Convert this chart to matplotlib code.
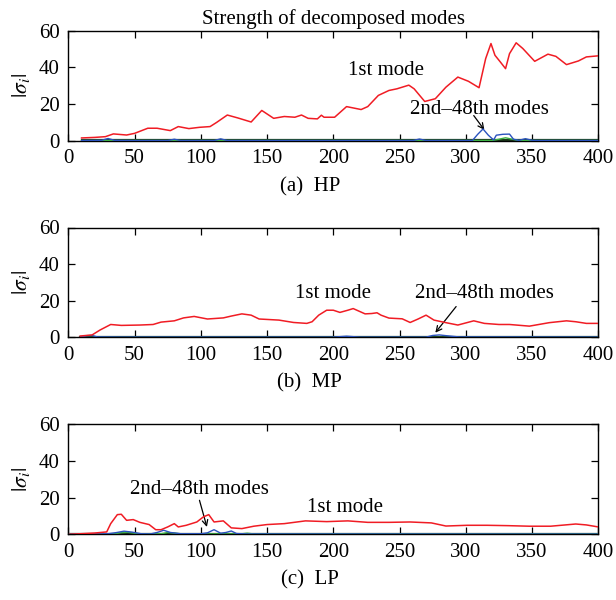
import matplotlib
matplotlib.use("Agg")
import matplotlib.pyplot as plt
import numpy as np

plt.rcParams['font.family'] = ['Liberation Serif', 'DejaVu Serif']
plt.rcParams['mathtext.fontset'] = 'stix'

# ---------------- data ----------------
# Panel (a) HP - 1st mode
hp_t = [10, 20, 28, 34, 44, 50, 60, 67, 77, 83, 91, 99, 107, 112, 120, 128, 138, 146,
        155, 163, 171, 176, 181, 188, 191, 193, 201, 210, 221, 226, 234, 242, 248, 257,
        261, 269, 277, 285, 294, 302, 310, 315, 319, 322, 326, 330, 333, 338, 343, 352,
        362, 368, 376, 385, 391, 400]
hp_first = [1.5, 1.8, 2.2, 3.7, 3.1, 4.0, 6.8, 6.8, 5.5, 7.7, 6.6, 7.3, 7.7, 10.0, 14.0,
            12.4, 10.2, 16.5, 12.2, 13.2, 12.8, 14.0, 12.2, 11.9, 13.9, 12.8, 12.8, 18.6,
            17.0, 18.6, 24.7, 27.4, 28.3, 30.3, 28.3, 21.4, 22.9, 29.2, 34.7, 32.4, 28.9,
            44.8, 53.0, 46.6, 43.0, 39.3, 47.5, 53.4, 50.3, 43.3, 47.2, 46.0, 41.5, 43.5,
            45.7, 46.3]
# Panel (a) HP - higher modes (blue / green / rest)
hp_hi_t = [10, 25, 30, 35, 50, 75, 80, 85, 110, 115, 120, 260, 265, 270, 305, 309, 313,
           317, 321, 323, 328, 333, 336, 340, 345, 350, 355, 400]
hp_blue = [0.1, 0.2, 1.2, 0.2, 0.1, 0.1, 0.8, 0.1, 0.1, 1.0, 0.1, 0.1, 0.9, 0.1, 0.1,
           3.5, 6.4, 3.0, 0.4, 3.0, 3.5, 3.6, 0.8, 0.2, 1.1, 0.2, 0.1, 0.1]
hp_green_t = [10, 320, 325, 330, 335, 340, 400]
hp_green = [0.1, 0.1, 0.8, 1.6, 0.8, 0.1, 0.1]

# Panel (b) MP - 1st mode
mp_t = [9, 18, 24, 32, 40, 54, 64, 70, 80, 87, 95, 105, 117, 123, 131, 138, 144, 159,
        170, 180, 184, 189, 195, 200, 205, 211, 215, 224, 229, 233, 236, 242, 252, 258,
        264, 270, 276, 285, 294, 306, 314, 325, 333, 348, 363, 376, 383, 391, 400]
mp_first = [0.7, 1.3, 4.0, 7.0, 6.5, 6.7, 7.0, 8.3, 9.0, 10.6, 11.4, 10.0, 10.6, 11.6,
            12.8, 12.1, 10.0, 9.4, 8.1, 7.6, 8.5, 12.1, 14.8, 14.8, 13.6, 14.8, 15.7,
            12.8, 13.0, 13.4, 12.1, 10.5, 10.1, 8.1, 10.0, 12.1, 9.4, 8.0, 6.7, 9.0,
            7.6, 7.0, 7.0, 6.1, 8.0, 9.0, 8.5, 7.6, 7.6]
mp_hi_t = [9, 14, 18, 22, 40, 200, 210, 220, 270, 275, 280, 285, 295, 400]
mp_blue = [0.1, 0.9, 1.0, 0.2, 0.1, 0.1, 0.6, 0.1, 0.1, 1.0, 1.3, 0.9, 0.2, 0.1]
mp_green_t = [9, 400]
mp_green = [0.1, 0.1]

# Panel (c) LP - 1st mode
lp_t = [1, 20, 29, 32, 37, 40, 44, 49, 54, 61, 66, 70, 75, 80, 83, 89, 97, 102, 106,
        110, 117, 123, 131, 140, 150, 163, 179, 195, 211, 226, 242, 258, 274, 285, 301,
        316, 332, 348, 364, 383, 391, 400]
lp_first = [0.0, 0.7, 1.3, 5.8, 10.7, 10.9, 7.6, 8.0, 6.5, 5.3, 2.5, 2.5, 4.0, 5.8, 4.0,
            4.9, 6.7, 9.5, 10.7, 6.7, 7.3, 3.5, 3.1, 4.4, 5.3, 5.8, 7.3, 6.9, 7.3, 6.5,
            6.5, 6.7, 6.2, 4.5, 4.9, 4.9, 4.7, 4.4, 4.4, 5.6, 5.1, 4.0]
lp_hi_t = [1, 30, 36, 42, 48, 55, 62, 67, 72, 77, 85, 100, 105, 110, 115, 119, 123, 127,
           135, 400]
lp_blue = [0.1, 0.3, 0.9, 1.7, 1.2, 0.3, 0.2, 1.0, 2.2, 1.0, 0.3, 0.3, 0.8, 2.5, 0.6,
           1.0, 1.8, 0.4, 0.2, 0.1]
lp_green_t = [1, 35, 40, 45, 50, 55, 70, 75, 80, 85, 130, 135, 140, 400]
lp_green = [0.1, 0.3, 0.9, 1.1, 0.6, 0.2, 0.3, 1.0, 0.7, 0.2, 0.2, 0.6, 0.2, 0.1]

xticks = [0, 50, 100, 150, 200, 250, 300, 350, 400]
yticks = [0, 20, 40, 60]
captions = ['(a)  HP', '(b)  MP', '(c)  LP']

RED = '#f01c24'
BLUE = '#2a52be'
GREEN = '#3cb043'
DARK = '#1c3a1c'
FS = 15

fig = plt.figure(figsize=(6.16, 6.0), dpi=100)
W, H = 616, 600
left, right = 68.3 / W, 598.3 / W
tops = [30.7, 227.5, 424.0]
bottoms = [140.7, 337.3, 534.3]

panels = [
    (hp_t, hp_first, hp_hi_t, hp_blue, hp_green_t, hp_green),
    (mp_t, mp_first, mp_hi_t, mp_blue, mp_green_t, mp_green),
    (lp_t, lp_first, lp_hi_t, lp_blue, lp_green_t, lp_green),
]

axes = []
for i, (t1, f1, th, bl, tg, gr) in enumerate(panels):
    y0 = 1 - bottoms[i] / H
    h = (bottoms[i] - tops[i]) / H
    ax = fig.add_axes([left, y0, right - left, h])
    axes.append(ax)
    ax.plot([th[0], th[-1]], [0.15, 0.15], color=DARK, lw=1.6, zorder=2)
    ax.plot(tg, gr, color=GREEN, lw=1.0, zorder=3)
    ax.plot(th, bl, color=BLUE, lw=1.0, zorder=4)
    ax.plot(t1, f1, color=RED, lw=1.1, zorder=5)
    ax.set_xlim(0, 400)
    ax.set_ylim(0, 60)
    ax.set_xticks(xticks)
    ax.set_yticks(yticks)
    ax.tick_params(direction='in', top=True, right=True, labelsize=FS,
                   length=5, width=0.9, pad=6)
    for s in ax.spines.values():
        s.set_linewidth(1.0)
    ax.set_ylabel(r'$|\sigma_i|$', fontsize=15.5, labelpad=5)
    fig.text(0.503, 1 - (bottoms[i] + 46) / H, captions[i], ha='center', va='center',
             fontsize=FS)

axes[0].set_title('Strength of decomposed modes', fontsize=FS, pad=5)

ann_kw = dict(fontsize=FS, ha='center', va='center')
arrow = dict(arrowstyle='->', color='black', lw=0.9, shrinkA=0, shrinkB=0)

# (a)
axes[0].text(240, 38.4, '1st mode', **ann_kw)
axes[0].text(310, 16.8, '2nd\u201348th modes', **ann_kw)
axes[0].annotate('', xy=(314, 5.9), xytext=(306, 13.7), arrowprops=arrow)
# (b)
axes[1].text(200, 24.0, '1st mode', **ann_kw)
axes[1].text(314, 24.0, '2nd\u201348th modes', **ann_kw)
axes[1].annotate('', xy=(277, 2.5), xytext=(292.7, 16.8), arrowprops=arrow)
# (c)
axes[2].text(99, 24.4, '2nd\u201348th modes', **ann_kw)
axes[2].text(209, 14.5, '1st mode', **ann_kw)
axes[2].annotate('', xy=(104.6, 4.0), xytext=(99, 18.5), arrowprops=arrow)

fig.savefig('out.png', dpi=100)
